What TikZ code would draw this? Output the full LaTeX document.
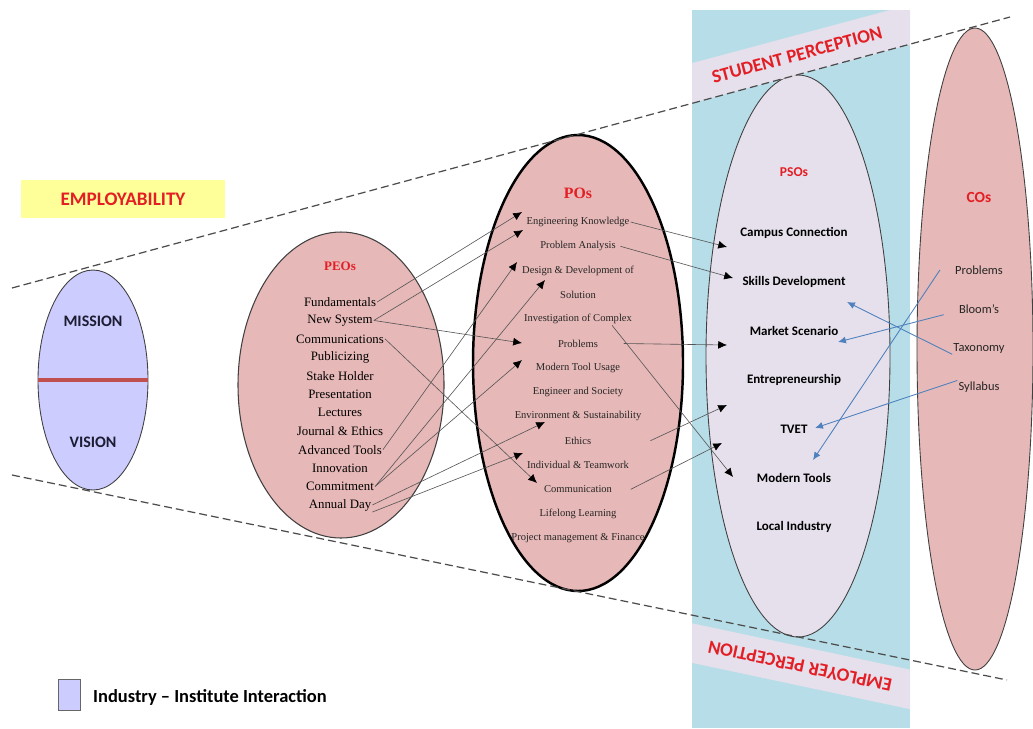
\documentclass[tikz,border=0pt]{standalone}
\usepackage{fontspec}
\setmainfont{Liberation Serif}
\newfontfamily\calfont{Carlito}
\usetikzlibrary{arrows.meta}

\definecolor{eppink}{HTML}{E6B8B7}
\definecolor{eplilac}{HTML}{CCCCFF}
\definecolor{eppso}{HTML}{E6E0EC}
\definecolor{epcyan}{HTML}{B7DEE8}
\definecolor{epyellow}{HTML}{FFFF99}
\definecolor{epred}{HTML}{E31E24}
\definecolor{epdivide}{HTML}{C0504D}
\definecolor{epblue}{HTML}{4F81BD}
\definecolor{epink}{HTML}{1C1C33}
\definecolor{epline}{HTML}{555555}

\tikzset{
  peoitem/.style={font=\fontsize{7.3}{8}\selectfont, inner sep=0.5pt},
  poitem/.style={font=\fontsize{6}{7}\selectfont, text=black!85, inner sep=0.5pt},
  psoitem/.style={font=\calfont\bfseries\fontsize{7.4}{8}\selectfont, inner sep=0.5pt},
  coitem/.style={font=\calfont\fontsize{7.1}{8}\selectfont, text=black!85, inner sep=0.5pt},
  settitle/.style={text=epred, font=\bfseries\fontsize{#1}{#1}\selectfont},
  caltitle/.style={text=epred, font=\calfont\bfseries\fontsize{#1}{#1}\selectfont},
  banner/.style={
    fill=eppso,
    text=epred,
    font=\calfont\bfseries\fontsize{10.7}{12}\selectfont,
    minimum width=140pt,
    minimum height=22pt
  },
  linkarrow/.style={draw=epline, line width=0.35pt, -{Latex[length=5pt,width=4.5pt,color=black]}},
  coarrow/.style={draw=epblue, line width=0.5pt, -{Latex[length=4.5pt,width=4pt]}},
  border/.style={dash pattern=on 4.5pt off 2.3pt, draw=black!70, line width=0.7pt}
}

\begin{document}
\begin{tikzpicture}[x=0.02cm, y=-0.02cm]

  \useasboundingbox (0,0) rectangle (1033,728);

  % --------------------------------------------------------------------
  % Perception band
  % --------------------------------------------------------------------

  \fill[epcyan] (692,10) rectangle (910,728);

  % --------------------------------------------------------------------
  % Ellipses
  % --------------------------------------------------------------------

  \filldraw[fill=eplilac, draw=black!75, line width=0.5pt]
    (93,380) ellipse [x radius=55, y radius=110];
  \draw[draw=epdivide, line width=2pt] (38,380) -- (148,380);

  \filldraw[fill=eppink, draw=black!75, line width=0.6pt]
    (341,385) ellipse [x radius=103, y radius=153];

  \filldraw[fill=eppink, draw=black, line width=1.4pt]
    (578,363) ellipse [x radius=105, y radius=228];

  \filldraw[fill=eppso, draw=black!75, line width=0.5pt]
    (798,356) ellipse [x radius=92, y radius=281];

  \filldraw[fill=eppink, draw=black!75, line width=0.5pt]
    (975,349) ellipse [x radius=58, y radius=321];

  % --------------------------------------------------------------------
  % Perception banners
  % --------------------------------------------------------------------

  \begin{scope}
    \clip (692,10) rectangle (910,728);
    \node[banner, rotate=15] (student) at (797,55) {STUDENT PERCEPTION};
    \node[banner, rotate=168] (employer) at (800,666) {EMPLOYER PERCEPTION};
  \end{scope}

  % --------------------------------------------------------------------
  % Dashed funnel
  % --------------------------------------------------------------------

  \draw[border] (12,288) -- (1010,17);
  \draw[border] (12,475) -- (1007,680);

  % --------------------------------------------------------------------
  % Titles
  % --------------------------------------------------------------------

  \node[
    fill=epyellow,
    minimum width=116pt,
    minimum height=21.6pt,
    text=epred,
    font=\calfont\bfseries\fontsize{10.9}{12}\selectfont
  ] (employ) at (123,199) {EMPLOYABILITY};

  \node[text=epink, font=\calfont\bfseries\fontsize{9.1}{10}\selectfont] (mission) at (93,321) {MISSION};
  \node[text=epink, font=\calfont\bfseries\fontsize{9.1}{10}\selectfont] (vision) at (93,442) {VISION};

  \node[settitle=7.4] (peos) at (340,266) {PEOs};
  \node[settitle=9] (pos) at (578,193) {POs};
  \node[caltitle=7.7] (psos) at (794,172) {PSOs};
  \node[caltitle=8.8] (cos) at (979,197) {COs};

  % --------------------------------------------------------------------
  % Item lists
  % --------------------------------------------------------------------

  \foreach \txt [count=\i] in {Fundamentals, New System, Communications, Publicizing,
    Stake Holder, Presentation, Lectures, Journal \& Ethics, Advanced Tools,
    Innovation, Commitment, Annual Day}{
    \node[peoitem] (peo\i) at (340, {302 + 18.45*(\i-1)}) {\txt};
  }

  \foreach \txt [count=\i] in {Engineering Knowledge, Problem Analysis,
    Design \& Development of, Solution, Investigation of Complex, Problems,
    Modern Tool Usage, Engineer and Society, Environment \& Sustainability,
    Ethics, Individual \& Teamwork, Communication, Lifelong Learning,
    Project management \& Finance}{
    \node[poitem] (po\i) at (578, {222 + 24.3*(\i-1)}) {\txt};
  }

  \foreach \txt [count=\i] in {Campus Connection, Skills Development, Market Scenario,
    Entrepreneurship, TVET, Modern Tools, Local Industry}{
    \node[psoitem] (pso\i) at (794, {233 + 49*(\i-1)}) {\txt};
  }

  \foreach \txt [count=\i] in {Problems, Bloom’s, Taxonomy, Syllabus}{
    \node[coitem] (co\i) at (979, {270 + 39*(\i-1)}) {\txt};
  }

  % --------------------------------------------------------------------
  % Arrow tips
  % --------------------------------------------------------------------

  \foreach \nm/\x/\y in {ta/522/212, tb/523/230, tc/517/262, td/545/280,
    te/522/343, tf/522/360, tg/545/422, th/523/453, ti/537/483,
    sa/727/247, sb/733/278, sc/727/345, sd/733/477, se/727/405, sf/722/443,
    ca/813/460, cb/838/342, cc/847/302, cd/815/428}{
    \coordinate (\nm) at (\x,\y);
  }

  % --------------------------------------------------------------------
  % PEOs to POs
  % --------------------------------------------------------------------

  \draw[linkarrow] (peo1.east) -- (ta);
  \draw[linkarrow] (peo2.east) -- (tb);
  \draw[linkarrow] (peo2.east) -- (te);
  \draw[linkarrow] (peo3.east) -- (ti);
  \draw[linkarrow] (peo9.east) -- (tc);
  \draw[linkarrow] (peo11.east) -- (td);
  \draw[linkarrow] (peo11.east) -- (tf);
  \draw[linkarrow] (peo12.east) -- (tg);
  \draw[linkarrow] (peo12.south east) -- (th);

  % --------------------------------------------------------------------
  % POs to PSOs
  % --------------------------------------------------------------------

  \draw[linkarrow] (po1.east) -- (sa);
  \draw[linkarrow] ([xshift=2pt]po2.east) -- (sb);
  \draw[linkarrow] ([xshift=14pt]po6.east) -- (sc);
  \draw[linkarrow] ([xshift=-12pt]po5.south east) -- (sd);
  \draw[linkarrow] ([xshift=33pt]po10.east) -- (se);
  \draw[linkarrow] ([xshift=10pt]po12.east) -- (sf);

  % --------------------------------------------------------------------
  % COs to PSOs
  % --------------------------------------------------------------------

  \draw[coarrow] ([xshift=-8pt]co1.west) -- (ca);
  \draw[coarrow] ([xshift=-8pt]co2.south west) -- (cb);
  \draw[coarrow] (co3.south west) -- (cc);
  \draw[coarrow] (co4.north west) -- (cd);

  % --------------------------------------------------------------------
  % Legend
  % --------------------------------------------------------------------

  \node[
    draw=black!60,
    fill=eplilac,
    minimum width=12.5pt,
    minimum height=17.6pt,
    inner sep=0pt
  ] (legbox) at (69,695) {};
  \node[anchor=west, font=\calfont\bfseries\fontsize{10.5}{12}\selectfont]
    (legtext) at (87,697) {Industry – Institute Interaction};

\end{tikzpicture}
\end{document}
